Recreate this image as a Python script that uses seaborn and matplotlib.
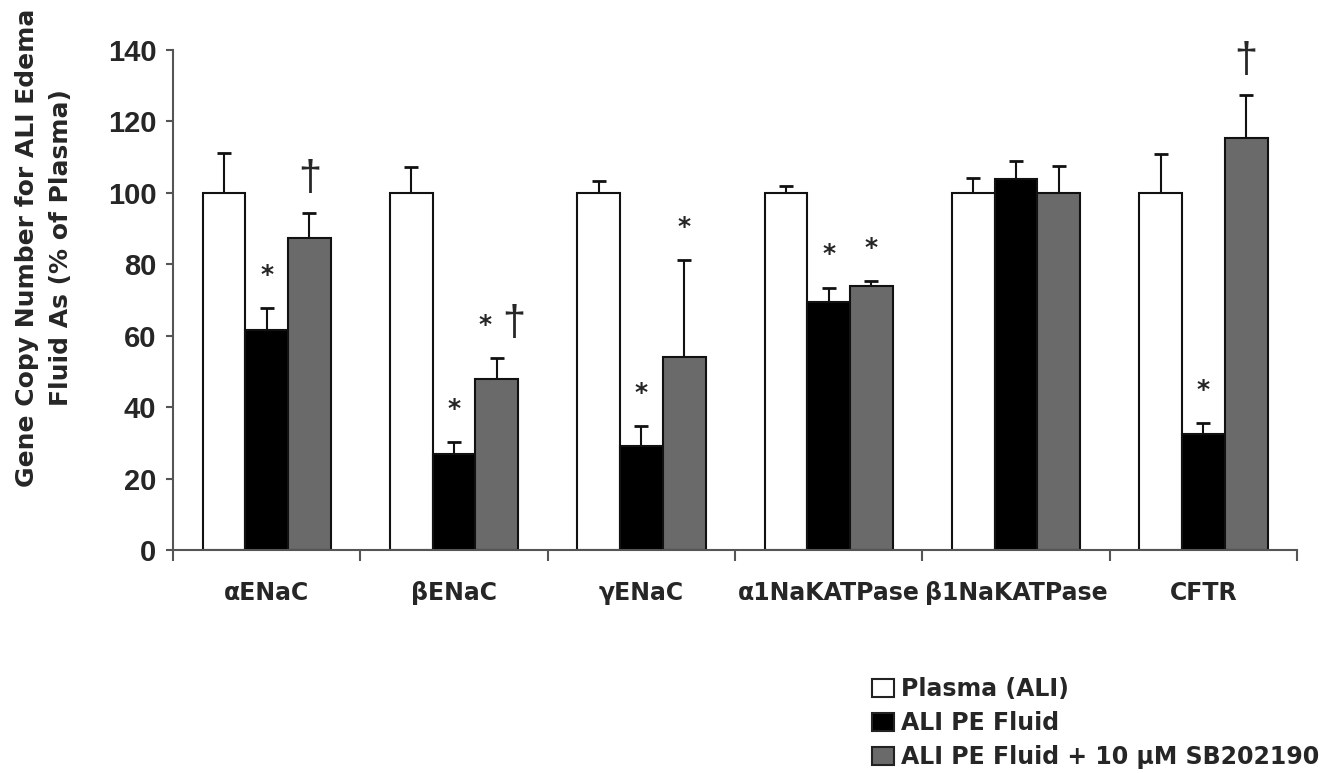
import numpy as np
import pandas as pd
import matplotlib
matplotlib.use("Agg")
import matplotlib.pyplot as plt
import seaborn as sns
from matplotlib.patches import Patch

# values (% of plasma)
genes = ["αENaC", "βENaC", "γENaC", "α1NaKATPase", "β1NaKATPase", "CFTR"]
groups = ["Plasma (ALI)", "ALI PE Fluid", "ALI PE Fluid + 10 μM SB202190"]
plasma = [100, 100, 100, 100, 100, 100]
pe_fluid = [61.5, 27, 29, 69.5, 104, 32.5]
pe_sb = [87.5, 48, 54, 74, 100, 115.5]
plasma_err = [11.3, 7.3, 3.3, 2, 4.3, 11]
pe_err = [6.2, 3.3, 5.7, 4, 5, 3]
sb_err = [6.8, 5.8, 27.2, 1.2, 7.5, 11.8]
pe_marks = ["*", "*", "*", "*", "", "*"]
sb_marks = ["†", "*†", "*", "*", "", "†"]

colors = ["white", "black", "#6a6a6a"]

df = pd.DataFrame({
    "gene": genes * 3,
    "group": np.repeat(groups, len(genes)),
    "value": plasma + pe_fluid + pe_sb,
})

sns.set_style("ticks")
plt.rcParams["font.family"] = ["DejaVu Sans"]
plt.rcParams["font.weight"] = "bold"

fig, ax = plt.subplots(figsize=(13.3, 7.73), dpi=100)
fig.subplots_adjust(left=0.1301, right=0.9752, top=0.9353, bottom=0.2885)

sns.barplot(data=df, x="gene", y="value", hue="group", palette=colors,
            edgecolor="#111111", linewidth=1.5, width=0.685, gap=0,
            legend=False, ax=ax)

def put_mark(x, y, m):
    # star and dagger sit at slightly different heights in their fonts
    if m == "*":
        ax.text(x, y + 9.3, "*", ha="center", va="center",
                fontsize=18, fontweight="bold")
    else:
        ax.text(x, y + 9.5, "†", ha="center", va="center",
                fontsize=30, fontweight="normal", family="Liberation Sans")

errs = [plasma_err, pe_err, sb_err]
marks = [[""] * 6, pe_marks, sb_marks]
for cont, err, mk in zip(ax.containers, errs, marks):
    xs = [b.get_x() + b.get_width() / 2 for b in cont]
    ys = [b.get_height() for b in cont]
    ax.errorbar(xs, ys, yerr=[np.zeros(len(err)), err], fmt="none",
                ecolor="#111111", elinewidth=1.5, capsize=4.7, capthick=2,
                zorder=0.5)
    for x, y, e, m in zip(xs, ys, err, mk):
        if len(m) == 2:
            put_mark(x - 0.065, y + e, m[0])
            put_mark(x + 0.09, y + e, m[1])
        elif m:
            put_mark(x, y + e, m)

ax.set_ylim(0, 140)
ax.set_xlim(-0.5, len(genes) - 0.5)
ax.set_yticks(range(0, 141, 20))
ax.set_xticks(range(len(genes)))
ax.set_xticks(np.arange(-0.5, len(genes)), minor=True)
ax.set_xticklabels(genes, fontsize=17, fontweight="bold")
ax.tick_params(axis="x", which="major", length=0, pad=22)
ax.tick_params(axis="x", which="minor", length=8, width=1.5, color="#555555")
ax.tick_params(axis="y", length=5, width=1.5, color="#555555", pad=7)
for lab in ax.get_yticklabels():
    lab.set_fontweight("bold")
    lab.set_fontfamily("Liberation Sans")
    lab.set_fontsize(21)
sns.despine(ax=ax)
for s in ["left", "bottom"]:
    ax.spines[s].set_color("#555555")
    ax.spines[s].set_linewidth(1.5)

ax.set_xlabel("")
ax.set_ylabel("Gene Copy Number for ALI Edema\nFluid As (% of Plasma)",
              fontsize=18, fontweight="bold", va="center", linespacing=1.55)
ax.yaxis.set_label_coords(-0.1148, 0.604)

handles = [Patch(facecolor=c, edgecolor="#222222", linewidth=1.5) for c in colors]
fig.legend(handles, groups, loc="center left", bbox_to_anchor=(0.6556, 0.0647),
           frameon=False, handlelength=0.95, handleheight=0.82,
           handletextpad=0.3, labelspacing=0.42, borderpad=0, borderaxespad=0,
           prop={"size": 17, "weight": "bold"})

fig.savefig("out.png", dpi=100)
